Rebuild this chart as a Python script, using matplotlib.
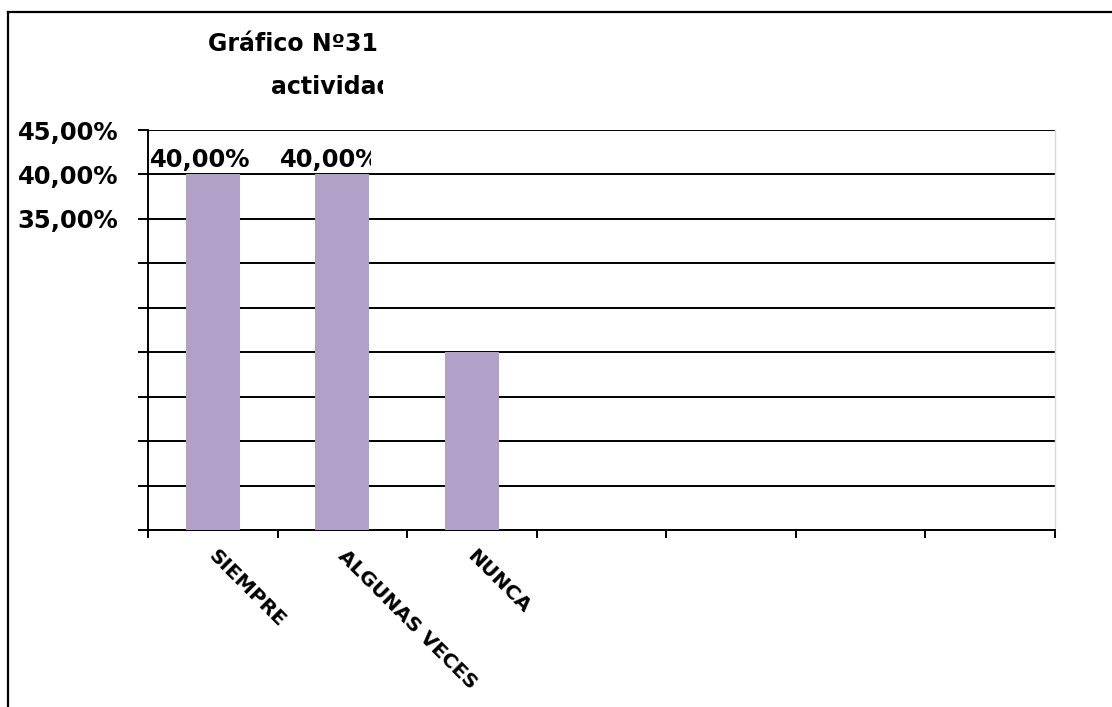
import matplotlib
matplotlib.use("Agg")
import matplotlib.pyplot as plt
from matplotlib.transforms import Bbox, TransformedBbox
from matplotlib.lines import Line2D

# ---- data ----
categories = ["SIEMPRE", "ALGUNAS VECES", "NUNCA"]
values = [40.0, 40.0, 20.0]          # percent
n_slots = 7                           # category slots on the axis
yticks = [0, 5, 10, 15, 20, 25, 30, 35, 40, 45]
ytick_labels = ["", "", "", "", "", "", "", "35,00%", "40,00%", "45,00%"]
labelled_bars = [0, 1]               # bars whose value label is visible
title_line1 = "Gráfico Nº31"
title_line2 = "actividad"

W, H = 1112, 707
fig = plt.figure(figsize=(W / 100, H / 100), dpi=100)
fig.patch.set_facecolor("white")

ax = fig.add_axes([148 / W, 1 - 530 / H, (1055 - 148) / W, 400 / H])
x = list(range(len(categories)))
ax.bar(x, values, width=0.415, color="#B1A0C7", zorder=3)

ax.set_xlim(-0.5, n_slots - 0.5)
ax.set_ylim(0, 45)
ax.set_yticks(yticks)
ax.set_yticklabels(ytick_labels)
ax.yaxis.grid(True, color="black", linewidth=1.4, zorder=0)
ax.set_axisbelow(True)

ax.set_xticks([i - 0.5 for i in range(n_slots + 1)])
ax.set_xticklabels([])
ax.tick_params(axis="x", direction="out", length=5.5, width=1.4, color="black")
ax.tick_params(axis="y", direction="out", length=7.5, width=1.4, color="black",
               pad=14, labelsize=17.5)
for lab in ax.get_yticklabels():
    lab.set_fontweight("bold")

ax.spines["left"].set_linewidth(1.4)
ax.spines["bottom"].set_linewidth(1.4)
ax.spines["top"].set_visible(False)
ax.spines["right"].set_color("#d9d9d9")
ax.spines["right"].set_linewidth(1.0)

# category labels rotated
for i, cat in enumerate(categories):
    ax.text(i + 0.04, -1.9, cat, rotation=-45, rotation_mode="anchor",
            ha="left", va="top", fontsize=14.5, fontweight="bold",
            clip_on=False)

# value labels (clipped like the original)
clip_rights = [251, 371]
for k, i in enumerate(labelled_bars):
    t = ax.annotate(f"{values[i]:.2f}%".replace(".", ","), xy=(i - 0.485, values[i]),
                    xytext=(0, 2), textcoords="offset points",
                    ha="left", va="bottom", fontsize=17.5, fontweight="bold",
                    annotation_clip=False)
    t.set_clip_on(True)
    t.set_clip_box(TransformedBbox(Bbox.from_extents(0, 0, clip_rights[k] / W, 1),
                                   fig.transFigure))

# title (clipped)
title_clip = TransformedBbox(Bbox.from_extents(0, 0, 383 / W, 1), fig.transFigure)
t1 = fig.text(208 / W, 1 - 51 / H, title_line1, fontsize=17, fontweight="bold",
              ha="left", va="baseline")
t2 = fig.text(271 / W, 1 - 94 / H, title_line2, fontsize=17, fontweight="bold",
              ha="left", va="baseline")
for t in (t1, t2):
    t.set_clip_on(True)
    t.set_clip_box(title_clip)

# outer chart border
fig.add_artist(Line2D([8 / W, 8 / W], [0, 1 - 12 / H], transform=fig.transFigure,
                      color="black", linewidth=1.6))
fig.add_artist(Line2D([8 / W, 1], [1 - 12 / H, 1 - 12 / H], transform=fig.transFigure,
                      color="black", linewidth=1.6))

fig.savefig("out.png", dpi=100)
